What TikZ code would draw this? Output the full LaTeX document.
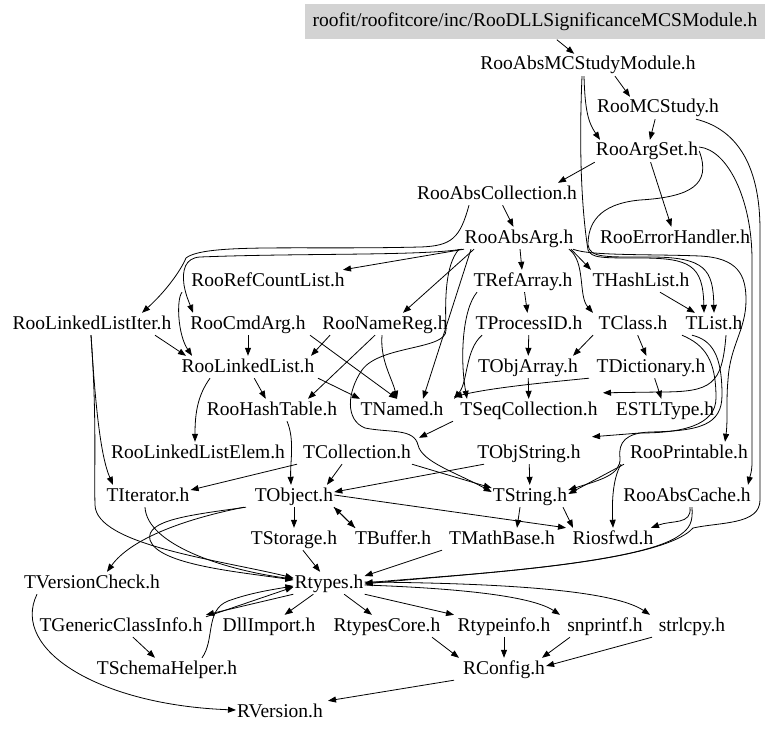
\documentclass[tikz,border=0pt]{standalone}
\usepackage{fontspec}
\setmainfont{Liberation Serif}
\usetikzlibrary{arrows.meta}
\definecolor{graybox}{RGB}{211,211,211}
\newcommand\depfont{\fontsize{19.5}{21}\selectfont}
\begin{document}
\begin{tikzpicture}[x=1pt,y=-1pt,every node/.style={font=\depfont,inner xsep=1pt,inner ysep=2pt,text height=14pt,text depth=4pt},
	dep/.style={-{Triangle[length=8pt,width=6pt]},line width=0.8pt}]
	\useasboundingbox (0,0) rectangle (768,733);
	\node[fill=graybox,minimum width=460pt,minimum height=35pt] (main) at (535,22){roofit/roofitcore/inc/RooDLLSignificanceMCSModule.h};
	\node (absmcs) at (588,65){RooAbsMCStudyModule.h};
	\node (mcstudy) at (658,108){RooMCStudy.h};
	\node (argset) at (647,151){RooArgSet.h};
	\node (abscoll) at (497,194){RooAbsCollection.h};
	\node (absarg) at (519,238){RooAbsArg.h};
	\node (errh) at (675,238){RooErrorHandler.h};
	\node (refcnt) at (268,281){RooRefCountList.h};
	\node (trefarr) at (523,281){TRefArray.h};
	\node (thashl) at (641,281){THashList.h};
	\node (llit) at (92,324){RooLinkedListIter.h};
	\node (cmdarg) at (248,324){RooCmdArg.h};
	\node (namereg) at (385,324){RooNameReg.h};
	\node (procid) at (529,324){TProcessID.h};
	\node (tclass) at (633,324){TClass.h};
	\node (tlist) at (714,324){TList.h};
	\node (llist) at (248,367){RooLinkedList.h};
	\node (objarr) at (528,367){TObjArray.h};
	\node (dict) at (651,367){TDictionary.h};
	\node (hasht) at (272,410){RooHashTable.h};
	\node (tnamed) at (402,410){TNamed.h};
	\node (seqc) at (529,410){TSeqCollection.h};
	\node (estl) at (665,410){ESTLType.h};
	\node (llelem) at (198,453){RooLinkedListElem.h};
	\node (tcoll) at (357,453){TCollection.h};
	\node (objstr) at (529,453){TObjString.h};
	\node (printable) at (689,453){RooPrintable.h};
	\node (titer) at (148,496){TIterator.h};
	\node (tobject) at (294,496){TObject.h};
	\node (tstring) at (530,496){TString.h};
	\node (abscache) at (687,496){RooAbsCache.h};
	\node (storage) at (294,539){TStorage.h};
	\node (buffer) at (393,539){TBuffer.h};
	\node (mathbase) at (502,539){TMathBase.h};
	\node (riosfwd) at (613,539){Riosfwd.h};
	\node (vcheck) at (92,583){TVersionCheck.h};
	\node (rtypes) at (329,583){Rtypes.h};
	\node (gci) at (121,626){TGenericClassInfo.h};
	\node (dllimp) at (269,626){DllImport.h};
	\node (rtcore) at (387,626){RtypesCore.h};
	\node (rtinfo) at (504,626){Rtypeinfo.h};
	\node (snpr) at (605,626){snprintf.h};
	\node (strl) at (692,626){strlcpy.h};
	\node (schema) at (167,669){TSchemaHelper.h};
	\node (rconfig) at (504,669){RConfig.h};
	\node (rversion) at (280,712){RVersion.h};
	% top
	\draw[dep] (main)--(absmcs);
	\draw[dep] ([xshift=27pt]absmcs.south)--([xshift=-28pt]mcstudy.north);
	\draw[dep] ([xshift=-4pt]absmcs.south) .. controls (585,110) and (588,122) .. ([xshift=-47pt]argset.north);
	\draw[dep] ([xshift=-6pt]absmcs.south) .. controls (578,170) and (584,225) .. (588,250) .. controls (592,258) and (600,258) .. (640,258) .. controls (690,258) and (703,265) .. ([xshift=-10pt]tlist.north);
	\draw[dep] (mcstudy)--(argset);
	\draw[dep] ([xshift=38pt]mcstudy.south) .. controls (740,130) and (760,170) .. (760,230)--(760,500) .. controls (760,525) and (720,522) .. (693,528) .. controls (660,565) and (450,575) .. (rtypes.east);
	\draw[dep] (argset.south west)--([xshift=61pt]abscoll.north);
	\draw[dep] (argset)--(errh);
	\draw[dep] (argset.east) .. controls (712,185) and (690,197) .. (640,200) .. controls (597,204) and (588,225) .. (588,245) .. controls (590,258) and (605,257) .. (650,257) .. controls (706,257) and (713,270) .. (tlist.north);
	\draw[dep] ([yshift=4pt]argset.east) .. controls (728,150) and (752,200) .. (752,260)--(752,462) .. controls (752,472) and (750,476) .. ([xshift=61pt]abscache.north);
	\draw[dep] (abscoll)--(absarg);
	\draw[dep] ([xshift=-28pt]abscoll.south) .. controls (460,238) and (452,246) .. (420,247) .. controls (300,250) and (205,243) .. (186,258) .. controls (180,272) and (165,292) .. ([xshift=50pt]llit.north);
	% RooAbsArg.h
	\draw[dep] ([xshift=-55pt]absarg.south)--([xshift=75pt]refcnt.north);
	\draw[dep] ([xshift=-57pt]absarg.south) .. controls (420,256) and (300,253) .. (200,257) .. controls (185,258) and (182,270) .. (184,285) .. controls (186,296) and (189,302) .. ([xshift=-55pt]cmdarg.north);
	\draw[dep] ([xshift=-45pt]absarg.south)--([xshift=18pt]namereg.north);
	\draw[dep] ([xshift=-48pt]absarg.south)--([xshift=21pt]tnamed.north);
	\draw[dep] (absarg)--(trefarr);
	\draw[dep] ([xshift=52pt]absarg.south)--([xshift=-50pt]thashl.north);
	\draw[dep] ([xshift=50pt]absarg.south) .. controls (586,262) and (578,296) .. ([xshift=-40pt]tclass.north);
	\draw[dep] ([xshift=54pt]absarg.south) .. controls (590,256) and (650,254) .. (700,256) .. controls (738,258) and (746,275) .. (746,300) .. controls (746,330) and (730,345) .. (728,380) .. controls (726,400) and (728,420) .. ([xshift=36pt]printable.north);
	\draw[dep] ([xshift=-60pt]absarg.south) .. controls (445,265) and (445,300) .. (446,330) .. controls (447,350) and (380,345) .. (362,370) .. controls (347,392) and (345,420) .. (365,428) .. controls (390,433) and (414,428) .. (418,445) .. controls (422,462) and (455,472) .. ([yshift=4pt]tstring.west);
	% middle
	\draw[dep] (thashl)--(tlist);
	\draw[dep] (trefarr)--(procid);
	\draw[dep] ([xshift=-46pt]trefarr.south) .. controls (462,310) and (460,360) .. ([xshift=-62pt]seqc.north);
	\draw[dep] (procid)--(objarr);
	\draw[dep] ([xshift=-47pt]procid.south) .. controls (465,350) and (468,382) .. ([xshift=52pt]tnamed.north);
	\draw[dep] (tclass)--(dict);
	\draw[dep] ([xshift=-40pt]tclass.south)--([xshift=45pt]objarr.north);
	\draw[dep] (objarr)--(seqc);
	\draw[dep] (dict)--(estl);
	\draw[dep] ([xshift=-62pt]dict.south) .. controls (540,383) and (490,388) .. ([xshift=52pt,yshift=2pt]tnamed.north);
	\draw[dep] ([xshift=12pt]tlist.south) .. controls (722,385) and (712,392) .. (660,392)--([xshift=74pt,yshift=6pt]seqc.north);
	\draw[dep] ([xshift=-22pt]tlist.south) .. controls (712,340) and (722,355) .. (722,395) .. controls (722,425) and (700,431) .. (650,432) .. controls (626,433) and (618,442) .. (620,458) .. controls (621,475) and (600,480) .. ([yshift=6pt]tstring.east);
	\draw[dep] ([xshift=-32pt]tlist.south) .. controls (705,345) and (716,360) .. (716,398) .. controls (716,426) and (680,433) .. (640,433)--([xshift=63pt,yshift=5pt]objstr.north);
	\draw[dep] ([xshift=-76pt]seqc.south)--([xshift=62pt,yshift=4pt]tcoll.north);
	% RooLinkedList and friends
	\draw[dep] ([xshift=-1pt]llit.south) .. controls (95,400) and (100,455) .. ([xshift=-35pt]titer.north);
	\draw[dep] ([xshift=-1pt]llit.south) .. controls (97,420) and (94,470) .. (95,505) .. controls (96,545) and (220,560) .. ([yshift=5pt]rtypes.west);
	\draw[dep] ([xshift=63pt]llit.south)--([xshift=-62pt]llist.north);
	\draw[dep] ([xshift=-86pt]refcnt.south) .. controls (176,300) and (178,335) .. ([xshift=-56pt]llist.north);
	\draw[dep] (cmdarg)--(llist);
	\draw[dep] ([xshift=62pt]cmdarg.south)--([xshift=-5pt]tnamed.north);
	\draw[dep] ([xshift=-55pt]namereg.south)--([xshift=63pt]llist.north);
	\draw[dep] ([xshift=-10pt]namereg.south)--([xshift=36pt]hasht.north);
	\draw[dep] ([xshift=-3pt]namereg.south) .. controls (380,360) and (392,378) .. ([xshift=-5pt]tnamed.north);
	\draw[dep] ([xshift=-38pt]llist.south) .. controls (198,395) and (195,412) .. ([xshift=-3pt]llelem.north);
	\draw[dep] (llist)--(hasht);
	\draw[dep] ([xshift=70pt]llist.south)--([xshift=-42pt]tnamed.north);
	\draw[dep] ([xshift=15pt]hasht.south) .. controls (295,440) and (290,462) .. ([xshift=-3pt]tobject.north);
	% TObject level
	\draw[dep] ([xshift=-15pt]tcoll.south)--([xshift=33pt]tobject.north);
	\draw[dep] ([xshift=-60pt]tcoll.south)--([yshift=6pt]titer.east);
	\draw[dep] ([xshift=55pt]tcoll.south)--([yshift=8pt]tstring.west);
	\draw[dep] ([xshift=-45pt]objstr.south)--([yshift=4pt]tobject.east);
	\draw[dep] (objstr)--(tstring);
	\draw[dep] ([xshift=-65pt]printable.south)--([yshift=2pt]tstring.east);
	\draw[dep] ([xshift=-68pt]printable.south) .. controls (612,480) and (612,505) .. (riosfwd.north);
	\draw[dep] ([xshift=3pt]abscache.south) .. controls (692,525) and (672,520) .. ([xshift=38pt]riosfwd.north);
	\draw[dep] ([xshift=5pt]abscache.south) .. controls (693,522) and (690,528) .. (680,535) .. controls (640,565) and (450,575) .. ([yshift=-1pt]rtypes.east);
	\draw[dep] (tobject)--(storage);
	\draw[dep] ([xshift=40pt]tobject.south)--([xshift=-38pt]buffer.north);
	\draw[dep] ([xshift=-38pt]buffer.north)--([xshift=40pt]tobject.south);
	\draw[dep] ([yshift=1pt]tobject.east)--([xshift=-47pt]riosfwd.north);
	\draw[dep] ([xshift=-50pt]tobject.south) .. controls (180,520) and (130,540) .. ([xshift=15pt]vcheck.north);
	\draw[dep] ([xshift=-48pt]tobject.south) .. controls (190,515) and (145,520) .. (150,540) .. controls (158,565) and (240,572) .. ([yshift=3pt]rtypes.west);
	\draw[dep] ([xshift=-3pt]titer.south) .. controls (147,545) and (225,570) .. ([yshift=4pt]rtypes.west);
	\draw[dep] (storage)--(rtypes);
	\draw[dep] ([xshift=-60pt]mathbase.south)--([yshift=7pt]rtypes.east);
	\draw[dep] ([xshift=-10pt]tstring.south)--([xshift=15pt]mathbase.north);
	\draw[dep] ([xshift=33pt]tstring.south)--([xshift=-40pt]riosfwd.north);
	% Rtypes.h
	\draw[dep] (rtypes.south west)--([xshift=85pt]gci.north);
	\draw[dep] ([xshift=85pt,yshift=-2pt]gci.north)--([yshift=-4pt]rtypes.west);
	\draw[dep] ([xshift=35pt]schema.north) .. controls (215,640) and (205,610) .. (228,601) .. controls (250,593) and (270,590) .. ([yshift=-3pt]rtypes.west);
	\draw[dep] (gci)--(schema);
	\draw[dep] (rtypes)--(dllimp);
	\draw[dep] (rtypes)--(rtcore);
	\draw[dep] (rtypes.south east)--([xshift=-50pt]rtinfo.north);
	\draw[dep] ([yshift=-2pt]rtypes.east) .. controls (450,588) and (530,595) .. ([xshift=-45pt]snpr.north);
	\draw[dep] ([yshift=1pt]rtypes.east) .. controls (480,583) and (610,588) .. ([xshift=-42pt]strl.north);
	\draw[dep] ([xshift=45pt]rtcore.south)--([xshift=-45pt]rconfig.north);
	\draw[dep] (rtinfo)--(rconfig);
	\draw[dep] ([xshift=-35pt]snpr.south)--([xshift=38pt]rconfig.north);
	\draw[dep] ([xshift=-40pt]strl.south)--([yshift=3pt]rconfig.east);
	\draw[dep] ([xshift=-50pt]rconfig.south)--([xshift=48pt]rversion.north);
	\draw[dep] ([xshift=-55pt]vcheck.south) .. controls (10,650) and (100,705) .. ([yshift=2pt]rversion.west);
\end{tikzpicture}
\end{document}
